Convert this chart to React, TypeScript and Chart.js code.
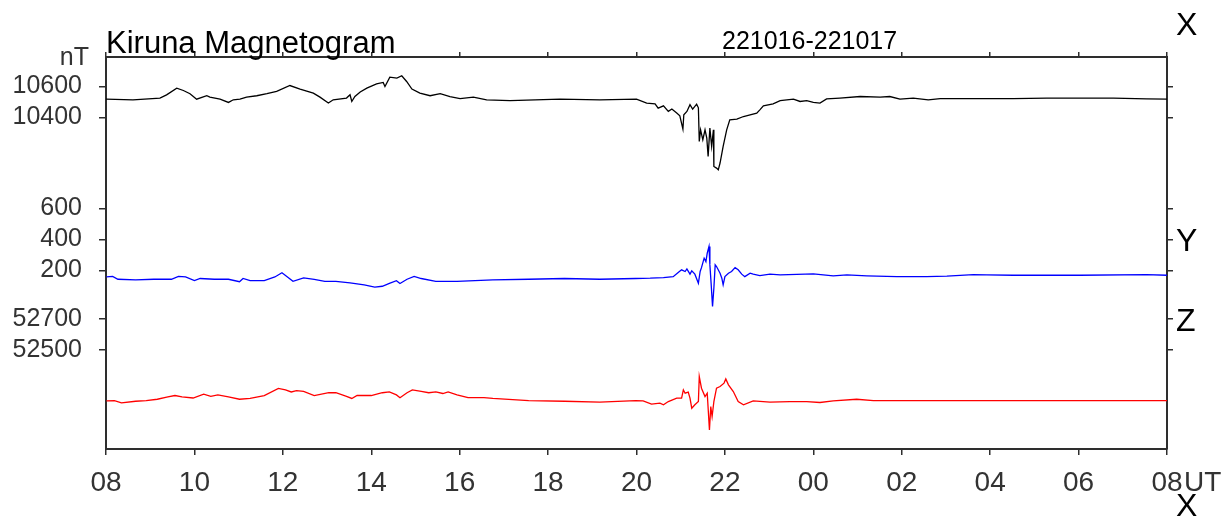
import React, { useEffect, useRef } from "react";
import { Chart, registerables } from "chart.js";

Chart.register(...registerables);

const FONT = "'Liberation Sans', Arial, Helvetica, sans-serif";
const NARROW = "'Liberation Sans Narrow', 'Liberation Sans', Arial, sans-serif";

const titleText = "Kiruna Magnetogram";
const dateText = "221016-221017";
const unitText = "nT";
const componentLabels = ["X", "Y", "Z"];
const timeUnit = "UT";

// x axis: hours UT (08 -> next day 08 = 32)
const hourTicks = [8, 10, 12, 14, 16, 18, 20, 22, 24, 26, 28, 30, 32];

// per-component tick labels and displayed ranges (nT)
const xTickValues = [10600, 10400];
const yTickValues = [600, 400, 200];
const zTickValues = [52700, 52500];
const xRange = [8261, 10790];
const yRange = [-953, 1576];
const zRange = [51859, 54388];

// X component (black)
const xTimes = [8.0, 8.61, 9.22, 9.37, 9.6, 9.75, 9.9, 10.05, 10.28, 10.35, 10.58, 10.77, 10.88, 11.03, 11.18, 11.41, 11.64, 11.86, 12.16, 12.39, 12.69, 12.84, 13.03, 13.14, 13.44, 13.52, 13.56, 13.63, 13.75, 13.9, 14.12, 14.27, 14.31, 14.42, 14.58, 14.69, 14.8, 14.92, 15.1, 15.33, 15.56, 15.78, 16.01, 16.31, 16.61, 17.14, 18.27, 19.17, 20.0, 20.23, 20.42, 20.49, 20.61, 20.72, 20.8, 20.91, 20.98, 21.05, 21.07, 21.14, 21.21, 21.27, 21.36, 21.4, 21.42, 21.45, 21.5, 21.55, 21.59, 21.62, 21.66, 21.7, 21.74, 21.75, 21.81, 21.85, 21.89, 21.96, 22.04, 22.11, 22.27, 22.42, 22.57, 22.72, 22.79, 22.87, 23.09, 23.25, 23.55, 23.7, 23.85, 24.0, 24.15, 24.3, 24.6, 25.06, 25.51, 25.73, 25.96, 26.26, 26.6, 26.87, 27.77, 28.52, 29.28, 30.03, 30.79, 31.54, 32.0];
const xValues = [10518, 10514, 10525, 10546, 10589, 10574, 10553, 10518, 10540, 10531, 10518, 10497, 10514, 10518, 10531, 10540, 10553, 10568, 10606, 10583, 10557, 10531, 10493, 10514, 10525, 10546, 10503, 10535, 10564, 10589, 10617, 10626, 10600, 10660, 10654, 10669, 10632, 10583, 10557, 10540, 10553, 10535, 10522, 10531, 10514, 10509, 10518, 10514, 10518, 10493, 10488, 10460, 10475, 10439, 10454, 10428, 10411, 10325, 10417, 10439, 10482, 10454, 10486, 10462, 10245, 10320, 10256, 10320, 10267, 10148, 10331, 10213, 10320, 10084, 10073, 10062, 10106, 10213, 10320, 10385, 10389, 10406, 10417, 10428, 10449, 10475, 10488, 10509, 10518, 10503, 10509, 10497, 10493, 10520, 10525, 10535, 10531, 10535, 10518, 10525, 10514, 10522, 10522, 10522, 10525, 10525, 10525, 10520, 10518];

// Y component (blue)
const yTimes = [8.01, 8.15, 8.27, 8.67, 9.08, 9.48, 9.64, 9.8, 10.0, 10.13, 10.45, 10.77, 11.02, 11.1, 11.26, 11.58, 11.82, 11.98, 12.23, 12.47, 12.71, 12.95, 13.2, 13.52, 13.84, 14.08, 14.25, 14.41, 14.57, 14.65, 14.81, 14.97, 15.13, 15.46, 15.94, 16.75, 17.56, 18.37, 19.17, 19.98, 20.31, 20.61, 20.83, 20.95, 21.02, 21.1, 21.14, 21.21, 21.25, 21.32, 21.4, 21.44, 21.47, 21.53, 21.57, 21.6, 21.64, 21.66, 21.69, 21.72, 21.75, 21.78, 21.81, 21.89, 21.93, 21.96, 22.0, 22.08, 22.15, 22.23, 22.3, 22.38, 22.45, 22.57, 22.64, 22.79, 23.02, 23.25, 24.0, 24.45, 24.76, 25.21, 25.89, 26.56, 27.02, 27.62, 27.92, 28.52, 30.03, 31.54, 32.0];
const yValues = [157, 161, 142, 138, 142, 142, 161, 157, 133, 147, 142, 142, 126, 147, 133, 133, 157, 184, 129, 151, 142, 129, 129, 119, 106, 92, 97, 115, 133, 115, 142, 161, 147, 129, 129, 138, 142, 147, 142, 147, 149, 153, 159, 188, 203, 192, 209, 175, 196, 175, 117, 192, 217, 278, 256, 310, 353, 235, 106, -34, 84, 235, 224, 181, 149, 106, 159, 181, 192, 217, 203, 175, 159, 181, 175, 166, 175, 170, 177, 164, 170, 164, 159, 159, 162, 172, 170, 168, 168, 172, 168];

// Z component (red)
const zTimes = [8.01, 8.19, 8.35, 8.67, 8.91, 9.16, 9.4, 9.56, 9.72, 9.97, 10.21, 10.37, 10.53, 10.77, 11.02, 11.26, 11.58, 11.9, 12.06, 12.19, 12.31, 12.47, 12.71, 13.04, 13.2, 13.44, 13.56, 13.68, 14.0, 14.25, 14.41, 14.57, 14.65, 14.81, 14.93, 15.13, 15.3, 15.46, 15.62, 15.74, 15.94, 16.19, 16.55, 16.75, 17.56, 18.37, 19.17, 19.98, 20.15, 20.34, 20.53, 20.61, 20.72, 20.91, 21.02, 21.06, 21.1, 21.17, 21.21, 21.25, 21.32, 21.4, 21.42, 21.47, 21.55, 21.6, 21.65, 21.68, 21.71, 21.75, 21.81, 21.89, 21.98, 22.02, 22.08, 22.19, 22.3, 22.42, 22.64, 23.02, 23.47, 23.85, 24.15, 24.45, 24.98, 25.36, 26.26, 27.77, 30.03, 32.0];
const zValues = [52169, 52171, 52157, 52167, 52171, 52180, 52195, 52204, 52195, 52188, 52213, 52199, 52208, 52195, 52180, 52185, 52204, 52250, 52240, 52227, 52236, 52231, 52204, 52222, 52222, 52199, 52185, 52204, 52204, 52222, 52227, 52208, 52190, 52222, 52240, 52231, 52222, 52227, 52217, 52227, 52208, 52190, 52190, 52185, 52171, 52167, 52162, 52171, 52170, 52148, 52155, 52144, 52165, 52187, 52187, 52240, 52219, 52226, 52187, 52122, 52144, 52165, 52326, 52251, 52197, 52219, 51982, 52133, 52068, 52165, 52251, 52262, 52284, 52311, 52273, 52230, 52165, 52144, 52170, 52161, 52165, 52165, 52159, 52170, 52180, 52171, 52171, 52171, 52171, 52171];

const pairs = (t: number[], v: number[]) => t.map((x, i) => ({ x, y: v[i] }));
const toMain = (v: number, range: number[]) => v - range[1] + xRange[1];

const leftTicks = [
  ...xTickValues.map((v) => ({ value: v, label: String(v) })),
  ...yTickValues.map((v) => ({ value: toMain(v, yRange), label: String(v) })),
  ...zTickValues.map((v) => ({ value: toMain(v, zRange), label: String(v) })),
].sort((a, b) => a.value - b.value);

const hourLabel = (v: number) => String(Math.round(v) % 24).padStart(2, "0");

const AXIS = "#2e2e2e";
const TICKTXT = "#333";

const overlayPlugin = {
  id: "overlayText",
  afterDraw(chart: any) {
    const ctx = chart.ctx as CanvasRenderingContext2D;
    const a = chart.chartArea;
    const yS = chart.scales.y;
    ctx.save();
    ctx.textBaseline = "alphabetic";
    ctx.textAlign = "left";
    ctx.fillStyle = "#000";
    ctx.font = `31px ${FONT}`;
    ctx.fillText(titleText, a.left, a.top - 4);
    ctx.font = `25px ${FONT}`;
    ctx.fillText(dateText, 722, a.top - 8);
    ctx.fillStyle = TICKTXT;
    ctx.textAlign = "right";
    ctx.fillText(unitText, a.left - 17, a.top + 8);
    ctx.fillStyle = "#000";
    ctx.textAlign = "left";
    ctx.font = `32px ${FONT}`;
    ctx.fillText(componentLabels[0], a.right + 9, a.top - 22);
    ctx.fillText(componentLabels[1], a.right + 9, yS.getPixelForValue(toMain(yTickValues[1], yRange)) + 12);
    ctx.fillText(componentLabels[2], a.right + 9, yS.getPixelForValue(toMain(zTickValues[0], zRange)) + 12.5);
    ctx.fillText(componentLabels[0], a.right + 9, a.bottom + 67);
    ctx.fillStyle = TICKTXT;
    ctx.font = `28px ${NARROW}`;
    ctx.fillText(timeUnit, a.right + 17, a.bottom + 42);
    ctx.restore();
  },
};

const gridOpts = (len: number) => ({
  drawOnChartArea: false,
  drawTicks: true,
  tickLength: len,
  color: AXIS,
  lineWidth: 1.5,
});
const borderOpts = { display: true, color: AXIS, width: 2 };

export default function App() {
  const ref = useRef<HTMLCanvasElement>(null);
  useEffect(() => {
    const canvas = ref.current;
    if (!canvas) return;
    const chart = new Chart(canvas, {
      type: "line",
      data: {
        datasets: [
          { label: "X", data: pairs(xTimes, xValues), borderColor: "#000000", borderWidth: 1.3, pointRadius: 0, tension: 0, xAxisID: "x", yAxisID: "y" },
          { label: "Y", data: pairs(yTimes, yValues), borderColor: "#0000ff", borderWidth: 1.3, pointRadius: 0, tension: 0, xAxisID: "x", yAxisID: "yY" },
          { label: "Z", data: pairs(zTimes, zValues), borderColor: "#ff0000", borderWidth: 1.3, pointRadius: 0, tension: 0, xAxisID: "x", yAxisID: "yZ" },
        ],
      },
      options: {
        responsive: false,
        animation: false,
        devicePixelRatio: 1,
        layout: { padding: { left: 0, top: 52, right: 56, bottom: 0 } },
        plugins: { legend: { display: false }, tooltip: { enabled: false }, title: { display: false } },
        scales: {
          x: {
            type: "linear",
            position: "bottom",
            min: hourTicks[0],
            max: hourTicks[hourTicks.length - 1],
            afterBuildTicks: (s: any) => { s.ticks = hourTicks.map((v) => ({ value: v })); },
            afterFit: (s: any) => { s.height = 74; },
            ticks: { callback: (v: any) => hourLabel(Number(v)), font: { family: NARROW, size: 28 }, color: TICKTXT, padding: 11, maxRotation: 0, autoSkip: false },
            grid: gridOpts(6),
            border: borderOpts,
          },
          xTop: {
            type: "linear",
            position: "top",
            min: hourTicks[0],
            max: hourTicks[hourTicks.length - 1],
            afterBuildTicks: (s: any) => { s.ticks = hourTicks.map((v) => ({ value: v })); },
            afterFit: (s: any) => { s.height = 5; },
            ticks: { display: false },
            grid: gridOpts(5),
            border: borderOpts,
          },
          y: {
            type: "linear",
            position: "left",
            min: xRange[0],
            max: xRange[1],
            afterBuildTicks: (s: any) => { s.ticks = leftTicks.map((t) => ({ value: t.value })); },
            afterFit: (s: any) => { s.width = 106; },
            ticks: {
              callback: (v: any) => { const t = leftTicks.find((k) => Math.abs(k.value - Number(v)) < 0.5); return t ? t.label : ""; },
              font: { family: FONT, size: 25 },
              color: TICKTXT,
              padding: 17,
              autoSkip: false,
            },
            grid: gridOpts(7),
            border: borderOpts,
          },
          yR: {
            type: "linear",
            position: "right",
            min: xRange[0],
            max: xRange[1],
            afterBuildTicks: (s: any) => { s.ticks = leftTicks.map((t) => ({ value: t.value })); },
            afterFit: (s: any) => { s.width = 6; },
            ticks: { display: false },
            grid: gridOpts(6),
            border: borderOpts,
          },
          yY: { type: "linear", display: false, min: yRange[0], max: yRange[1] },
          yZ: { type: "linear", display: false, min: zRange[0], max: zRange[1] },
        },
      } as any,
      plugins: [overlayPlugin],
    });
    return () => chart.destroy();
  }, []);
  return (
    <div style={{ position: "absolute", left: 0, top: 0, width: 1229, height: 523, background: "#fff" }}>
      <canvas ref={ref} width={1229} height={523} style={{ display: "block", width: 1229, height: 523 }} />
    </div>
  );
}
